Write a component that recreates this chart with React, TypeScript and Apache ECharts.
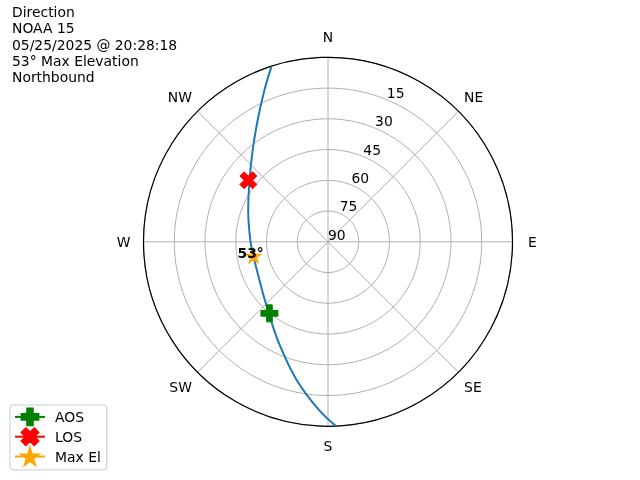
import React, { useEffect, useRef } from 'react';
import * as echarts from 'echarts';

const FONT = 'DejaVu Sans';
const FS = 13.9;

const titleLines = ['Direction', 'NOAA 15', '05/25/2025 @ 20:28:18', '53° Max Elevation', 'Northbound'];
const compassLabels = ['N', 'NE', 'E', 'SE', 'S', 'SW', 'W', 'NW'];
const compassAngles = [0, 45, 90, 135, 180, 225, 270, 315];
const elevationTicks = [0, 15, 30, 45, 60, 75, 90];

// satellite track, from south to north (azimuth degrees, elevation degrees)
const trackAz = [177.5, 183.1, 192.8, 204.4, 214.5, 226.3, 240.9, 258.7, 271.3, 291.7, 308.2, 320.6, 330.0, 337.3, 342.2];
const trackEl = [0, 7.85, 20.9, 33.8, 41.7, 47.7, 51.7, 53.0, 52.1, 48.1, 41.3, 32.1, 21.4, 9.7, 0];

// [elevation, azimuth]
const aosPoint = [44.9, 219.3];
const losPoint = [40.9, 307.7];
const maxElPoint = [53, 258.7];

const legendNames = ['AOS', 'LOS', 'Max El'];

const PLUS = 'path://M2,0 L4,0 L4,2 L6,2 L6,4 L4,4 L4,6 L2,6 L2,4 L0,4 L0,2 L2,2 Z';
const XMARK = 'path://M1,0 L2,1 L3,0 L4,1 L3,2 L4,3 L3,4 L2,3 L1,4 L0,3 L1,2 L0,1 Z';
const STAR = 'path://M100,0 L122.45,69.1 L195.1,69.1 L136.3,111.8 L158.8,180.9 L100,138.2 L41.2,180.9 L63.7,111.8 L4.9,69.1 L77.55,69.1 Z';

export default function App() {
  const ref = useRef<HTMLDivElement>(null);
  useEffect(() => {
    if (!ref.current) return;
    const chart = echarts.init(ref.current, undefined, { renderer: 'svg' });
    const center = [328, 241.8];
    const radius = 184.5;
    const grid = '#b0b0b0';
    const keyFor = (name: string) =>
      name === 'N' ? 'n' : name === 'S' ? 's' : name === 'E' ? 'e' : name === 'W' ? 'w' : name.startsWith('N') ? 'dn' : 'ds';
    const richBase = { fontSize: FS, fontFamily: FONT, color: '#000' };
    chart.setOption({
      animation: false,
      textStyle: { fontFamily: FONT },
      title: {
        text: titleLines.join('\n'),
        left: 12,
        top: 4,
        padding: 0,
        textStyle: { fontSize: FS, fontWeight: 'normal', color: '#000', lineHeight: 16.3, fontFamily: FONT },
      },
      legend: {
        data: legendNames,
        orient: 'vertical',
        left: 10,
        top: 405,
        itemWidth: 30,
        itemHeight: 21,
        itemGap: 1,
        padding: [2.5, 6, 4, 4],
        backgroundColor: '#ffffff',
        borderColor: '#cccccc',
        borderWidth: 1,
        borderRadius: 3,
        textStyle: { fontSize: FS, color: '#000', fontFamily: FONT, padding: [0, 0, 0, 5] },
      },
      polar: [
        { center, radius },
        { center, radius },
      ],
      angleAxis: [
        {
          polarIndex: 0,
          type: 'value',
          min: 0,
          max: 360,
          interval: 45,
          startAngle: 90,
          clockwise: true,
          axisLine: { show: true, lineStyle: { color: '#000', width: 1.2 } },
          axisTick: { show: false },
          axisLabel: {
            margin: 8,
            fontSize: FS,
            color: '#000',
            fontFamily: FONT,
            formatter: (v: number) => {
              const i = compassAngles.indexOf(v);
              if (i < 0) return '';
              const name = compassLabels[i];
              return `{${keyFor(name)}|${name}}`;
            },
            rich: {
              n: { ...richBase, padding: [0, 0, 5, 0] },
              s: { ...richBase, padding: [5, 0, 0, 0] },
              e: { ...richBase, padding: [0, 0, 0, 7.5] },
              w: { ...richBase, padding: [0, 5, 0, 0] },
              dn: { ...richBase, padding: [0, 0, 2, 0] },
              ds: { ...richBase, padding: [2, 0, 0, 0] },
            },
          },
          splitLine: { show: true, lineStyle: { color: grid, width: 1 } },
        },
        {
          polarIndex: 1,
          type: 'value',
          min: 0,
          max: 360,
          startAngle: 67.5,
          clockwise: true,
          show: false,
        },
      ],
      radiusAxis: [
        {
          polarIndex: 0,
          type: 'value',
          min: 0,
          max: 90,
          interval: 15,
          inverse: true,
          axisLine: { show: false },
          axisTick: { show: false },
          axisLabel: { show: false },
          splitLine: { show: true, lineStyle: { color: grid, width: 1 } },
        },
        {
          polarIndex: 1,
          type: 'value',
          min: 0,
          max: 90,
          interval: 15,
          inverse: true,
          axisLine: { show: false },
          axisTick: { show: false },
          splitLine: { show: false },
          axisLabel: {
            show: true,
            margin: 0,
            align: 'left',
            verticalAlign: 'bottom',
            fontSize: FS,
            color: '#000',
            fontFamily: FONT,
            formatter: (v: number) => (v === elevationTicks[0] ? '' : String(v)),
          },
        },
      ],
      series: [
        {
          name: 'Track',
          type: 'line',
          coordinateSystem: 'polar',
          polarIndex: 0,
          data: trackEl.map((e, i) => [e, trackAz[i]]),
          smooth: 0.4,
          symbol: 'none',
          lineStyle: { color: '#1f77b4', width: 2 },
          z: 2,
        },
        {
          name: 'AOS',
          type: 'line',
          coordinateSystem: 'polar',
          polarIndex: 0,
          data: [aosPoint],
          symbol: PLUS,
          symbolSize: 17,
          showSymbol: true,
          itemStyle: { color: '#008000', borderColor: '#008000', borderWidth: 1 },
          lineStyle: { color: '#008000', width: 2 },
          z: 3,
        },
        {
          name: 'LOS',
          type: 'line',
          coordinateSystem: 'polar',
          polarIndex: 0,
          data: [losPoint],
          symbol: XMARK,
          symbolSize: 17,
          showSymbol: true,
          itemStyle: { color: '#ff0000', borderColor: '#ff0000', borderWidth: 1 },
          lineStyle: { color: '#ff0000', width: 2 },
          z: 3,
        },
        {
          name: 'Max El',
          type: 'line',
          coordinateSystem: 'polar',
          polarIndex: 0,
          data: [maxElPoint],
          symbol: STAR,
          symbolSize: [15, 14.3],
          symbolOffset: [0, -0.75],
          showSymbol: true,
          itemStyle: { color: '#ffa500', borderColor: '#ffa500', borderWidth: 1 },
          lineStyle: { color: '#ffa500', width: 2 },
          label: {
            show: true,
            position: 'inside',
            offset: [-3, -2.5],
            formatter: `${maxElPoint[0]}°`,
            fontWeight: 'bold',
            fontSize: FS,
            color: '#000',
            fontFamily: FONT,
          },
          z: 4,
        },
      ],
    });
    return () => chart.dispose();
  }, []);
  return <div ref={ref} style={{ position: 'fixed', left: 0, top: 0, width: 640, height: 480 }} />;
}
